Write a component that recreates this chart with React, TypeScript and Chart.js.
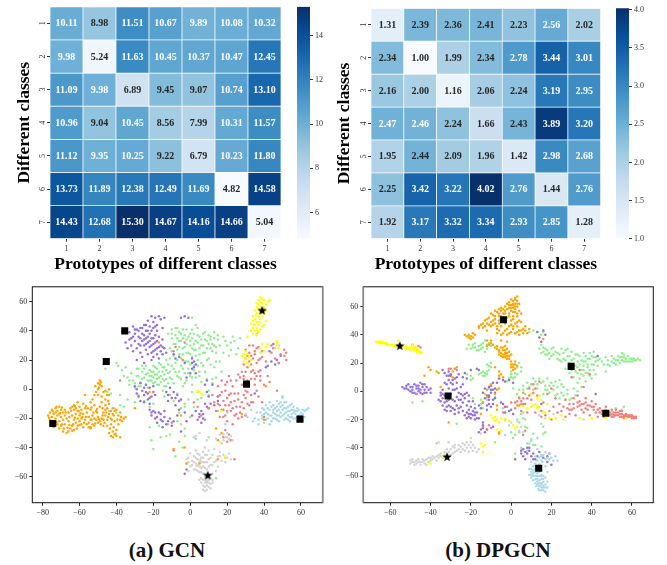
import React, { useEffect, useRef } from "react";
import { Chart, registerables } from "chart.js";

Chart.register(...registerables);

const FONT = "'Liberation Serif', 'Times New Roman', serif";
const classLabels = ["1", "2", "3", "4", "5", "6", "7"];
const blues = ["#f7fbff", "#deebf7", "#c6dbef", "#9ecae1", "#6baed6", "#4292c6", "#2171b5", "#08519c", "#08306b"];

const matrixA = [
  [10.11, 8.98, 11.51, 10.67, 9.89, 10.08, 10.32],
  [9.98, 5.24, 11.63, 10.45, 10.37, 10.47, 12.45],
  [11.09, 9.98, 6.89, 9.45, 9.07, 10.74, 13.1],
  [10.96, 9.04, 10.45, 8.56, 7.99, 10.31, 11.57],
  [11.12, 9.95, 10.25, 9.22, 6.79, 10.23, 11.8],
  [13.73, 11.89, 12.38, 12.49, 11.69, 4.82, 14.58],
  [14.43, 12.68, 15.3, 14.67, 14.16, 14.66, 5.04],
];
const matrixB = [
  [1.31, 2.39, 2.36, 2.41, 2.23, 2.56, 2.02],
  [2.34, 1.0, 1.99, 2.34, 2.78, 3.44, 3.01],
  [2.16, 2.0, 1.16, 2.06, 2.24, 3.19, 2.95],
  [2.47, 2.46, 2.24, 1.66, 2.43, 3.89, 3.2],
  [1.95, 2.44, 2.09, 1.96, 1.42, 2.98, 2.68],
  [2.25, 3.42, 3.22, 4.02, 2.76, 1.44, 2.76],
  [1.92, 3.17, 3.32, 3.34, 2.93, 2.85, 1.28],
];
const cbarTicksA = [6, 8, 10, 12, 14];
const cbarTicksB = [1, 1.5, 2, 2.5, 3, 3.5, 4];
const ticksAX = [-80, -60, -40, -20, 0, 20, 40, 60];
const ticksAY = [-60, -40, -20, 0, 20, 40, 60];
const ticksBX = [-60, -40, -20, 0, 20, 40, 60];
const ticksBY = [-60, -40, -20, 0, 20, 40, 60];

const colOrange = "#FFA500", colYellow = "#FFFF00", colGreen = "#90EE90", colPurple = "#9370DB", colCoral = "#F08080", colBlue = "#ADD8E6", colGrey = "#D3D3D3";

const orangeA = [-77,-18,-76,-21,-76,-16,-75,-19,-75,-14,-74,-17,-74,-22,-74,-26,-73,-13,-73,-16,-73,-20,-72,-15,-72,-18,-72,-24,-71,-12,-71,-17,-71,-22,-71,-27,-70,-14,-70,-19,-70,-25,-69,-16,-69,-21,-69,-29,-68,-18,-68,-24,-67,-30,-67,-20,-66,-29,-66,-22,-65,-13,-65,-27,-64,-12,-64,-18,-64,-25,-63,-11,-63,-14,-63,-21,-63,-28,-62,-13,-62,-17,-62,-23,-61,-9,-61,-15,-61,-20,-61,-25,-60,-12,-60,-18,-60,-22,-59,-14,-59,-20,-59,-24,-58,-10,-58,-17,-58,-26,-57,-4,-57,-13,-57,-21,-56,-16,-56,-24,-55,-19,-55,-23,-54,-9,-54,-14,-54,-21,-54,-26,-53,-18,-53,-24,-52,-4,-52,-11,-52,-20,-52,-25,-51,-15,-51,-21,-50,-4,-50,0,-50,-19,-50,-23,-50,4,-49,6,-49,3,-49,-12,-49,-22,-48,2,-48,-5,-48,-9,-48,-20,-47,-16,-47,-21,-47,-25,-46,-7,-46,-14,-46,-18,-45,-4,-45,-13,-45,-21,-45,-25,-44,-17,-44,-10,-44,0,-44,-30,-43,-15,-43,-20,-43,-32,-43,-24,-42,-13,-42,-17,-42,-29,-42,-33,-41,-15,-41,-31,-41,-22,-40,-14,-40,-28,-40,-32,-39,-18,-39,-24,-38,-16,-38,-21,-38,-33,-37,-22,-36,-20,-35,-19,-54,-27,-66,-16,-68,-14,-75.5,-24,-72.5,-22.5,-69.5,-12.5,-65.5,-24.5,-62.5,-19.5,-59.5,-16.5,-56.5,-11.5,-53.5,-12.5,-50.5,-13.5,-47.5,-13,-44.5,-8,-41.5,-26,-30,-13,-9,-41,-3,-40,5,-51,15,-48,14,-27,17,-30,28,-17,41,2,-17,32,-22,-2,-5,-18,40,-21,-2,-51];
const orangeA2 = [-76.5,-19.5,-74.5,-15,-73.5,-24.5,-72.5,-12,-70.5,-16.5,-69.5,-24,-68.5,-27,-67.5,-16,-66.5,-26.5,-65.5,-19,-64.5,-15,-64,-28.5,-63.5,-24,-62.5,-11.5,-61.5,-27,-60.5,-15,-60,-24.5,-58.5,-19,-57.5,-23,-56.5,-19,-55.5,-13,-55,-26,-53.5,-21,-52.5,-16,-51.5,-23.5,-50.5,-16,-49.5,-20.5,-48.5,-24,-47.5,-18,-46.5,-23,-46,-11,-45.5,-16,-44.5,-19,-43.5,-27,-42.5,-21,-41.5,-18,-40.5,-30.5,-39.5,-21,-37.5,-19,-49.5,1,-51,-2,-47,-2,-44,-4,-48.5,5,-51.5,2,-53,-7,-46,-1];
const yellowA = [38,63,39,62,37,61,40,61,38,60,36,59,39,59,41,58,37,58,38,57,40,56,36,56,42,60,43,61,37,55,39,55,35,54,41,54,36,52,38,52,40,52,34,50,37,50,39,50,35,48,38,48,41,47,34,47,36,46,33,45,35,44,37,44,39,43,34,42,36,42,38,41,33,40,35,40,37,39,34,38,36,37,40,44,31,36,37.5,53,35.5,50.5,37.5,46,34.5,44.5,36.5,40,30,26,29,24,31,24,32,22,30,21,33,20,31,18,29,19,32,16,28,23,38,28,39,31,40,26,41,29,38,25,42,31,47,33,47,30,48,28,47,32,5,-2,6,-3,7,-4,4,-1,19,-46,16,-36,17,-15];
const greenA = [-40,18,-39,16,-37,13,-35,15,-36,9,-34,8,-32,11,-31,6,-33,3,-29,9,-28,14,-27,5,-26,12,-25,8,-24,3,-23,11,-22,6,-22,13,-21,9,-20,4,-20,16,-19,10,-18,7,-18,14,-17,3,-17,18,-16,9,-15,12,-15,-1,-14,6,-14,15,-13,20,-13,2,-12,11,-12,38,-11,-4,-11,8,-11,28,-10,16,-10,35,-10,41,-9,-8,-9,4,-9,23,-8,12,-8,31,-8,37,-7,20,-7,-3,-7,27,-7,42,-6,8,-6,33,-6,-16,-5,16,-5,38,-5,-24,-4,24,-4,2,-4,35,-3,11,-3,29,-3,-27,-3,-32,-2,6,-2,19,-2,34,-2,41,-1,14,-1,-7,-1,25,0,9,0,30,0,38,0,-19,1,3,1,22,1,49,1,35,2,16,2,27,2,-12,3,8,3,33,3,44,4,20,4,-2,4,37,5,12,5,28,6,-6,6,5,6,34,7,16,7,30,8,25,8,39,9,7,9,33,10,21,10,-1,11,28,11,36,12,4,12,31,13,15,13,39,14,25,14,8,15,34,15,-15,16,19,16,30,17,12,18,36,18,25,19,33,20,30,20,-6,21,23,22,27,22,32,23,36,24,33,25,24,26,28,27,35,15,37,-20,-41,-21,-35,-16,-33,-11,-31,-6,-36,-4,-40,-8,-46,-13,-32,3,-34,-47,17,-46,14,-75,-22,29,3,30,5,-12,-24,-7,-22,-3,-12,4,-7,52,-20,43,-24,50,-5,36,38,14,-61,-6,24,40,-14,-22,-26];
const greenA2 = [-30,4,-29,14,-28,9,-27,2,-26,7,-25,14,-24,10,-24,16,-23,6,-23,1,-22,9,-21,12,-21,6,-20,8,-20,12,-19,5,-19,15,-18,10,-18,3,-17,8,-17,12,-16,5,-16,17,-15,7,-15,15,-14,10,-14,2,-13,13,-13,7,-12,17,-12,4,-11,12,-11,21,-10,7,-10,26,-10,38,-9,14,-9,31,-8,42,-8,18,-7,9,-7,35,-6,12,-6,29,-6,39,-5,21,-5,33,-5,7,-4,14,-4,28,-4,41,-3,19,-3,37,-3,4,-2,25,-2,31,-1,11,-1,19,-1,36,0,17,0,33,0,24,1,8,1,28,1,41,2,13,2,31,2,38,3,23,3,27,4,16,4,32,4,42,5,9,5,24,5,36,6,18,6,30,7,25,7,38,8,12,8,34,9,20,9,28,10,31,10,37,11,17,11,34,12,26,13,35,13,30,14,29,-40,-16,-36,-12,-30,-9,-28,-4,-25,-8,-22,-12,-20,-10,-34,-7,-43,-3,-38,-11,-38,-4,-45,-2,-30,1,-28,2,-33,6,-17,-25,-14,-5,-5,-13,-3,-10,1,-2,10,-4,12,7,14,19,-26,16,-38];
const purpleA = [-35,32,-34,28,-33,39,-32,35,-32,30,-31,43,-31,26,-30,38,-30,33,-29,41,-29,28,-29,20,-28,36,-28,31,-27,42,-27,25,-26,38,-26,33,-26,22,-25,30,-25,44,-25,18,-24,35,-24,27,-24,40,-23,32,-23,47,-23,24,-22,38,-22,29,-22,43,-21,35,-21,25,-21,50,-21,20,-20,31,-20,42,-20,46,-19,27,-19,37,-19,49,-18,24,-18,33,-18,44,-17,29,-17,21,-17,50,-16,26,-16,48,-15,24,-15,34,-14,49,-14,28,-9,24,-8,21,-6,22,-5,49,-3,50,-3,18,-1,49,1,18,1,14,2,19,3,17,3,11,-30,2,-29,-3,-27,4,-26,-1,-27,-8,-25,-9,-24,3,-24,-2,-23,-7,-22,1,-22,-10,-21,-5,-20,2,-19,-4,-13,-2,-12,-8,-11,1,-10,-6,-8,-11,-7,-4,-6,-14,-5,-7,-22,-14,-21,-18,-20,-15,-19,-20,-18,-23,-17,-16,-16,-21,-15,-26,-14,-19,-13,-24,-11,-20,-10,-25,-7,-18,-5,-29,-3,-16,-2,-22,1,-18,3,-15,4,-21,5,-19,6,-23,7,-20,8,3,9,-2,10,-5,8,-10,9,-12,11,-10,13,-11,15,-5,15,-8,9,6,12,3,44,19,46,17,47,20,48,18,49,23,43,26,42,16,45,31,-3,-58,-2,-55,35,-3,41,15,31,3];
const purpleA2 = [-33,34,-31,36,-30,41,-28,40,-27,35,-27,30,-26,42,-25,37,-25,34,-24,31,-24,44,-23,36,-23,40,-22,33,-21,30,-21,40,-20,35,-20,26,-20,22,-19,32,-19,43,-18,28,-18,40,-17,36,-16,30,-15,42,-15,29,-13,25,-29,0,-28,-5,-25,1,-25,-4,-23,-3,-22,-6,-20,-2,-12,-4,-9,-2,-6,-8,-8,-6,-21,-16,-19,-16,-18,-19,-16,-17,-15,-22,-14,-15,-12,-22,-9,-22,-2,8,0,11,2,15,1,21,10,-13,7,-17,6,-15,5,-17];
const coralA = [-38,6,-20,-2,-10,-23,-9,26,-8,29,-4,20,-3,32,2,-9,4,-12,6,-18,8,-21,10,-13,12,-4,13,-9,14,-15,15,-5,15,2,16,-11,16,-19,17,-2,17,6,18,-8,18,-14,19,-1,19,-18,20,-6,20,5,20,-22,21,-11,21,9,22,-3,22,-15,23,2,23,-24,24,-8,24,-18,25,6,25,-12,26,-3,26,-20,26,10,27,-16,28,3,28,-9,29,-13,29,9,30,-6,30,-18,30,27,31,15,31,-2,32,-11,32,30,32,25,33,7,33,-4,34,13,34,-9,34,21,35,3,35,26,36,-1,36,9,36,18,37,-5,37,29,38,6,38,13,39,-9,39,22,40,3,40,-19,41,19,42,9,43,5,44,25,45,28,46,21,47,-1,48,18,49,24,51,27,51,23,52,25,52,20,30,-1,33,17,28,12,18,-33,19,-28,20,-36,21,-31,22,-35,24,-48,15,-35,-9,-42];
const coralA2 = [15,-10,16,-4,17,-14,18,-19,19,-11,20,-15,21,-4,22,-9,23,-13,24,-3,25,-17,26,-7,27,-12,28,-19,29,-4,31,-10,33,-9,35,7,30,12,29,17,30,21,31,23,32,19,33,23,34,30,35,24,36,28,37,20,33,12,38,9,37,12,38,21,39,26,35,11,31,6,29,7,27,8,22,6,19,3,44,30];
const blueA = [30,-17,31,-19,33,-14,34,-22,36,-16,37,-21,39,-13,39,-18,40,-23,41,-11,41,-16,42,-20,43,-9,43,-14,44,-18,44,-22,45,-11,45,-16,46,-13,46,-20,47,-8,47,-15,47,-18,48,-10,48,-22,49,-12,49,-16,49,-19,50,-6,50,-14,50,-11,51,-17,51,-21,52,-13,52,-9,53,-15,53,-18,54,-11,54,-22,55,-14,55,-19,56,-16,56,-12,57,-20,57,-17,58,-15,58,-13,59,-18,60,-16,60,-22,61,-14,62,-19,63,-14,64,-13,38,-16,40,-14,42,-17,37,-24,35,-20,-49,4,-44,-15,-41,-13,20,-16,19,-24,2,-33,10,-33];
const blueA2 = [39,-20,40,-17,41,-21,42,-13,43,-18,44,-12,45,-20,45,-14,46,-17,47,-12,47,-21,48,-14,48,-18,49,-9,50,-18,51,-13,51,-9,52,-16,53,-12,53,-21,54,-15,54,-19,55,-17,56,-20,56,-14,57,-15,58,-19,59,-14,60,-18,61,-17,62,-15,58,-22,55,-10];
const greyA = [-2,-51,-1,-47,0,-53,0,-44,1,-49,2,-55,2,-46,3,-51,3,-42,4,-56,4,-48,5,-53,5,-45,6,-50,6,-57,7,-43,7,-47,7,-53,8,-40,8,-60,8,-50,9,-45,9,-55,9,-64,10,-42,10,-48,10,-59,11,-65,11,-52,5,-62,6,-64,7,-66,7,-62,8,-67,8,-64,9,-69,9,-66,10,-62,10,-67,11,-61,12,-64,12,-58,12,-45,13,-50,13,-41,14,-56,15,-46,15,-53,16,-43,17,-49,18,-45,19,-50,20,-47,21,-44,22,-48,18,-35,17,-37,19,-33,20,-30,21,-34,22,-32,23,-35,14,-34,16,-31,3,-32,5,-30,9,-35,47,32,46,28,48,30,-1,-56,7.5,-58,3.5,-52.5,5.5,-48.5];
const greyA2 = [1,-52,2,-50,3,-47,3,-55,4,-52,5,-50,5,-57,6,-47,6,-54,7,-50,7,-58,8,-45,8,-54,9,-50,9,-61,10,-53,10,-64,11,-47,11,-68,8,-62,6,-61,9,-63,7,-69,8,-70,12,-62,12,-52,14,-49,16,-46,19,-47,20,-33,18,-31,-1,-50,-2,-48,4,-44];
const squaresA = [-74.5,-23.5,-45.5,19,-35.5,40,30.5,3.5,59.5,-20.5];
const starsA = [39,54,9.5,-59];

const orangeB = [3,67,2,66,1,64,3,64,0,65,-1,63,2,62,4,62,-2,62,0,61,3,60,-3,60,-1,59,1,59,-5,59,-6,58,4,57,-3,57,0,57,2,56,-8,57,-4,55,-1,55,-6,55,5,55,-10,55,1,53,3,53,-8,53,-2,52,-5,53,-11,52,-13,50,-9,50,-6,50,0,50,4,50,-12,48,-8,48,-3,48,2,48,-15,47,-10,46,-5,46,-1,46,-14,45,-7,44,-3,43,1,44,3,46,-16,46,-12,43,5,43,7,46,9,44,8,41,0,42,-2,40,-5,40,-7,41,4,40,2,41,-23,40,-21,40,-21,38,-19,41,-19,38,-18,40,-12,36,-10,36,-11,33,-9,33,-7,32,-12,32,-6,28,-5,31,-4,29,-3,32,-2,30,-6,26,-4,26,-2,25,-1,28,-3,24,-1,23,-2,27,0,26,-5,36,-2,35,0,21,1,19,0,17,1,15,2,21,3,18,2,16,-6,14,-5,12,-6,11,-4,10,16,37,6,-1,-10,5,-3,-20,-7,1,-8,-2,-6,2,-7,-10,-8,17,-41,17,-29,14,-27,17,-29,10,-6,-30,-6,-29,-7,-13,-15,-16,-12,-4,-14,-8,-12,1,-35,3,-37,14,-36,13,-40,15,-43,11,3,-10,5,-9,-31,-22];
const orangeB2 = [2,65,1,62,3,62,-1,61,1,61,2,60,-2,58,0,59,2,58,-4,58,-7,56,-5,57,-3,55,1,56,3,55,-9,54,-6,53,-1,53,-12,51,-8,51,-10,49,-6,48,-11,47,-13,46,1,51,3,49,5,49,-14,48,-16,45,-9,47,-7,46,-2,44,0,47,1,46,4,43,6,44,7,43,6,41,-1,41,-4,41,-6,43,3,42,-5,27,-4,24,-3,27,-6,29,-5,25,-1,25,-2,23,-7,30,-8,31,-10,34,-3,29,-4,31,-3,26,-22,39,-20,39,-20,37,1,17,2,19,0,19];
const yellowB = [-67,35,-66,35,-65,35,-65,34,-64,35,-64,34,-63,34,-62,34,-62,33,-61,33,-60,33,-59,33,-58,33,-57,32,-56,36,-54,32,-53,31,-52,30,-52,32,-51,30,-50,31,-50,29,-49,33,-49,30,-48,31,-48,29,-47,30,-47,28,-46,29,-46,28,-45,28,-45,27,-10,-17,-9,-19,-8,-18,-8,-21,-7,-20,-6,-22,-5,-19,-3,-20,-1,-21,1,-24,2,-26,3,-25,-5,-28,-7,-27,6,-11,8,-12,10,-11,11,-10,12,-9,13,-10,13,-12,14,-11,15,-6,14,-3,13,-5,16,-15,17,-15,19,-19,22,-19,25,-17,26,-20,34,-19,40,-19,47,-19,57,-19,-14,-43,-15,-37,-14,-39,-13,-38,10,-2,18,-9,-40,-51,-34,-46];
const yellowB2 = [-66.5,34.5,-65.5,34.5,-64.5,34,-63.5,34.5,-61.5,33.5,-60.5,32.5,-59,32.5,-58,32,-51.5,31,-50.5,30,-49.5,31,-48.5,30,-47.5,29,-46.5,29,-45.5,28,-47,31,-44.5,27.5];
const greenB = [-21,33,-20,30,-19,31,-18,34,-17,29,-16,32,-15,33,-14,31,-13,28,-13,36,-12,33,-11,34,-10,32,-22,12,-20,11,-19,9,-16,12,-15,13,-14,14,-13,13,-12,14,-12,12,-11,18,-10,17,-10,20,-20,8,-2,7,-1,9,0,12,0,14,1,15,1,9,2,10,3,17,3,12,4,20,5,17,5,14,-19,-5,-15,-6,-15,-9,-18,-9,-12,-6,-14,-12,-13,-2,-11,2,-10,4,-8,-4,-4,-12,3,-20,4,-22,5,-16,6,-19,7,-25,8,-26,6,-15,0,-29,1,-33,2,-31,10,-35,11,-38,13,-33,16,-30,4,-29,8,-37,15,-39,-8,-36,-37,-37,-49,-8,-44,-7,-27,-23,15,40,13,42,11,43,9,42,16,42,15,33,16,31,14,30,15,27,17,30,18,26,19,23,20,25,20,30,22,28,23,23,24,26,25,21,25,30,26,27,27,22,27,16,28,25,28,30,29,20,29,13,30,28,30,15,31,10,31,23,32,18,32,26,33,13,33,6,33,21,34,25,34,9,35,15,35,22,35,3,36,27,36,18,36,11,37,21,37,7,37,25,38,17,38,13,39,27,39,23,40,19,40,9,41,28,41,15,41,24,42,21,42,12,43,18,44,23,45,21,46,19,47,24,48,22,49,18,50,21,50,25,51,23,52,19,53,25,53,22,54,20,55,27,55,24,56,21,56,26,57,23,58,25,58,21,59,23,60,21,61,23,62,22,63,23,64,22,48,19,47,14,47,-13,50,-14,52,-12,55,-13,56,-11,6,4,8,2,10,5,12,7,13,2,14,9,15,6,16,-2,17,4,18,9,18,1,19,-1,20,6,21,1,22,-3,23,3,24,-5,24,8,25,-1,26,3,27,-6,28,-2,30,-5,31,2,32,-3,33,0,4,-4,4,1,7,-2,5,-40,8,-42,2,-44,12,-38,15,-46,11,-30,16,-25,17,-29];
const greenB2 = [-18,31,-16,29,-15,30,-14,34,-12,30,-19,33,-14,11,-13,11,-11,15,-12,19,16,28,17,26,18,29,19,27,21,26,21,31,23,27,24,22,26,23,27,29,29,25,30,22,31,18,32,14,33,17,33,26,34,19,35,12,36,21,36,15,37,13,38,23,38,19,39,15,39,11,40,25,41,19,42,24,43,22,51,20,52,22,54,24,55,22,56,24,57,21,59,21,60,23,61,22,9,3,11,1,11,9,13,5,16,7,17,1,19,4,21,4,22,7,23,-2,25,5,26,-3,28,1,29,-6,8,6,6,1,3,-2,1,2,-22,30,0,10,2,13];
const purpleB = [-54,3,-53,2,-52,4,-51,1,-51,5,-50,0,-49,3,-49,-1,-48,5,-47,2,-47,-2,-46,4,-46,0,-45,6,-45,-1,-44,3,-44,-2,-43,1,-43,5,-42,-1,-41,1,-40,-1,-40,2,-36,-6,-35,-3,-35,-7,-34,1,-34,-5,-34,-10,-33,-3,-33,-13,-32,-7,-32,5,-32,-14,-31,2,-31,8,-31,-10,-30,-2,-30,-14,-30,11,-29,-6,-29,5,-29,-12,-28,1,-28,9,-28,-16,-27,-4,-27,6,-27,-10,-26,12,-26,-1,-26,-15,-25,3,-25,-6,-25,-11,-24,-3,-24,5,-24,-14,-23,-5,-23,-17,-22,-1,-22,-10,-22,-19,-21,-7,-21,-13,-21,-18,-20,-11,-20,-16,-19,-14,-19,-7,-18,-12,-18,-17,-18,-20,-17,-15,-16,-19,-16,-10,-15,-12,-14,-22,-14,-8,-14,-1,-13,-5,-13,2,-12,-10,-12,-13,-11,-3,-11,3,-11,-9,-10,-1,-10,4,-10,-11,-9,1,-9,-6,-9,6,-8,2,-8,-5,-34,15,-33,13,-32,11,-31,14,-30,12,-24,10,-22,9,-23,13,-20,15,-17,16,-16,15,-5,-8,-4,-9,-3,-11,-3,-15,-1,-14,0,-13,1,-16,9,-40,7,-43,6,-41,5,-42,8,-44,10,-46,11,-44,12,-48,6,-46,7,-48,14,-43,16,-47,20,-52,18,-46,19,-44,2,-48,-1,8,1,6,-3,7,-6,9,15,-9,13,42,14,38,15,35,16,43,17,40,14,-52,18,-50,-14,-24,-12,-27,-16,-29,-15,-27,-9,-25,-7,6,-4,8];
const purpleB2 = [-52,2,-50,3,-49,1,-48,-1,-47,4,-46,2,-45,1,-44,5,-43,-1,-42,3,-35,-1,-34,-2,-33,-8,-33,6,-32,-2,-32,-11,-31,-6,-31,11,-30,-11,-30,6,-29,1,-29,8,-28,-7,-28,-13,-27,2,-27,10,-26,-6,-26,-12,-25,-2,-24,-8,-23,-2,-22,-15,-21,-3,-21,-16,-20,-19,-19,-17,-18,-15,-17,-19,-12,-3,-11,-6,-10,1,-9,-9,-8,-1,-14,-26,-13,-29,-11,-4,9,-42,11,-48,13,-46,5,-44,8,-40,43,25,42,-2,3];
const coralB = [-49,33,-48,31,-46,32,-45,31,-31,16,-30,16,-28,16,-27,15,-12,-27,-10,-26,-11,-24,-14,-25,-4,-15,-2,-11,0,-8,2,-12,3,-7,4,-10,5,-14,6,-5,7,-9,8,-15,9,-3,9,2,10,-6,11,-1,11,5,12,-15,12,2,13,-3,14,7,15,-18,15,-14,16,-8,17,-17,18,-2,19,-14,20,-20,20,2,21,-11,22,-5,23,-15,24,-9,25,-14,26,-11,27,-18,27,-6,28,-12,29,-9,29,-16,30,-13,31,-5,31,-9,32,-17,33,-11,33,-3,34,-7,35,-13,36,-9,36,-15,37,-5,38,-10,38,-13,39,-17,40,-11,40,-7,41,-13,42,-15,42,-9,43,-18,44,-12,45,-14,46,-18,47,-11,48,-17,49,-15,50,-16,50,-13,51,-18,52,-17,52,-13,53,-15,54,-16,55,-18,55,-14,56,-19,57,-16,57,-18,58,-18,59,-17,60,-18,60,-19,61,-18,62,-19,62,-18,58,-17,56,-17,54,-18,51,-15,48,-14,30,10,34,15,39,12,36,3,7,-28,6,-31,-47,-2];
const coralB2 = [49,-17,50,-18,51,-17,52,-15,53,-17,54,-14,55,-16,56,-18,57,-17,59,-18,60,-17,61,-19,34,-10,35,-9,37,-8,39,-10,41,-11,43,-13,45,-16,44,-15,37,-12,33,-8,31,-12,29,-13,10,-2,8,-5,6,-9,5,-7,4,-5,2,-8];
const blueB = [15,-23,21,-49,23,-49,19,-44,17,-43,15,-45,13,-41,12,-46,18,-47,10,-50,11,-53,12,-51,9,-55,10,-57,9,-59,10,-61,11,-56,11,-58,11,-63,12,-55,12,-60,12,-65,13,-58,13,-62,13,-66,14,-57,14,-60,14,-63,14,-67,14,-70,15,-59,15,-62,15,-65,15,-68,16,-64,16,-67,16,-70,17,-61,17,-66,17,-71,18,-68,18,-57,15.5,-50,14,-47,16,-45,13,-49,17,-53,9,-37,10,-34,-1,-24,7,-20,4,-28,-3,-31];
const blueB2 = [10,-55,11,-60,12,-57,12,-62,12.5,-67,13,-60,13,-64,13.5,-69,14,-65,15,-60,15,-66,15,-70,16,-62,16,-68,16,-60,17,-68,18,-64,12,-53,14,-52,15,-49,17,-48,19,-48,11,-60,10,-59,13,-53,20,-47,22,-46];
const greyB = [-50,-49,-50,-51,-49,-50,-49,-48,-48,-50,-48,-52,-47,-49,-47,-51,-46,-48,-46,-50,-45,-50,-45,-52,-44,-48,-44,-50,-43,-49,-43,-51,-42,-48,-42,-52,-41,-50,-41,-47,-40,-49,-40,-47,-39,-48,-39,-46,-38,-47,-37,-49,-37,-46,-36,-47,-36,-45,-35,-44,-35,-46,-34,-47,-33,-43,-33,-45,-32,-41,-32,-44,-31,-43,-30,-45,-30,-41,-29,-44,-29,-39,-28,-43,-28,-40,-27,-42,-26,-41,-26,-38,-25,-43,-25,-39,-24,-41,-24,-37,-23,-42,-23,-38,-22,-40,-22,-36,-21,-43,-21,-38,-20,-40,-20,-36,-20,-33,-19,-42,-19,-38,-18,-40,-17,-43,-16,-41,-31,-36,-28,-38,-36,-36,5,-25,0,-22,3,-21,-3,-20,14,-17,17,-19,21,-16,36,-20,6,-29,-15,-30];
const squaresB = [-3.8,50.6,29.8,17.6,-31.3,-3.3,47,-15.5,13.7,-54.4];
const starsB = [-55.3,32.2,-31.8,-46.4];

const pairs = (flat: number[]) => {
  const out: { x: number; y: number }[] = [];
  for (let i = 0; i + 1 < flat.length; i += 2) out.push({ x: flat[i], y: flat[i + 1] });
  return out;
};

const lerpBlues = (t: number) => {
  const p = Math.max(0, Math.min(1, t)) * (blues.length - 1);
  const i = Math.min(blues.length - 2, Math.floor(p));
  const f = p - i;
  const h = (s: string, k: number) => parseInt(s.slice(k, k + 2), 16);
  const mix = (k: number) => Math.round(h(blues[i], k) * (1 - f) + h(blues[i + 1], k) * f);
  return `rgb(${mix(1)},${mix(3)},${mix(5)})`;
};

const starImage = () => {
  const c = document.createElement("canvas");
  c.width = 10;
  c.height = 10;
  const g = c.getContext("2d")!;
  g.fillStyle = "#000";
  g.beginPath();
  for (let i = 0; i < 10; i++) {
    const r = i % 2 === 0 ? 4.8 : 2.1;
    const a = -Math.PI / 2 + (i * Math.PI) / 5;
    const px = 5 + r * Math.cos(a);
    const py = 5.3 + r * Math.sin(a);
    if (i === 0) g.moveTo(px, py);
    else g.lineTo(px, py);
  }
  g.closePath();
  g.fill();
  return c;
};

const tickFont = { family: FONT, size: 8 };
const tickColor = "#333";

function heatConfig(matrix: number[][], yWidth: number, top: number, right: number, xHeight: number, yTitlePad: number): any {
  const flat = matrix.flat();
  const vmin = Math.min(...flat);
  const vmax = Math.max(...flat);
  const norm = (v: number) => (v - vmin) / (vmax - vmin);
  const labelPlugin = {
    id: "cellLabels",
    afterDatasetsDraw(chart: any) {
      const g = chart.ctx;
      g.save();
      g.font = `bold 10px ${FONT}`;
      g.textAlign = "center";
      g.textBaseline = "middle";
      matrix.forEach((row, r) => {
        const meta = chart.getDatasetMeta(r);
        row.forEach((v, c) => {
          const p = meta.data[c].getCenterPoint();
          g.fillStyle = norm(v) >= 0.48 ? "#fff" : "#262626";
          g.fillText(v.toFixed(2), p.x, p.y + 0.5);
        });
      });
      g.restore();
    },
  };
  return {
    type: "bar",
    data: {
      labels: classLabels,
      datasets: matrix.map((row) => ({
        data: row.map(() => 1),
        backgroundColor: row.map((v) => lerpBlues(norm(v))),
        borderColor: "#fff",
        borderWidth: 0.7,
        borderSkipped: false,
        barPercentage: 1,
        categoryPercentage: 1,
      })),
    },
    plugins: [labelPlugin],
    options: {
      responsive: false,
      animation: false,
      layout: { padding: { top, right, left: 0, bottom: 0 } },
      plugins: { legend: { display: false }, tooltip: { enabled: false } },
      scales: {
        x: {
          stacked: true,
          grid: { display: true, drawOnChartArea: false, drawTicks: true, tickLength: 3, color: "#333", offset: false },
          border: { display: false },
          ticks: { font: tickFont, color: tickColor, padding: 2, maxRotation: 0 },
          title: { display: true, text: "Prototypes of different classes", font: { family: FONT, size: 17.5, weight: "bold" }, color: "#000", padding: { top: 1, bottom: 5 } },
          afterFit: (s: any) => { s.height = xHeight; },
        },
        y: {
          type: "linear",
          stacked: true,
          reverse: true,
          min: 0,
          max: 7,
          afterBuildTicks: (s: any) => { s.ticks = classLabels.map((_, i) => ({ value: i + 0.5 })); },
          grid: { display: true, drawOnChartArea: false, drawTicks: true, tickLength: 3, color: "#333" },
          border: { display: false },
          ticks: { font: tickFont, color: tickColor, padding: 2, minRotation: 90, maxRotation: 90, crossAlign: "center", callback: (v: number) => classLabels[Math.floor(v)] },
          title: { display: true, text: "Different classes", font: { family: FONT, size: 17.5, weight: "bold" }, color: "#000", padding: { top: yTitlePad, bottom: 0 } },
          afterFit: (s: any) => { s.width = yWidth; },
        },
      },
    },
  };
}

function cbarConfig(matrix: number[][], ticks: number[], top: number, bottom: number, left: number, barW: number): any {
  const flat = matrix.flat();
  const vmin = Math.min(...flat);
  const vmax = Math.max(...flat);
  return {
    type: "bar",
    data: {
      labels: [""],
      datasets: [{
        data: [[vmin, vmax]],
        barPercentage: 1,
        categoryPercentage: 1,
        backgroundColor: (ctx: any) => {
          const a = ctx.chart.chartArea;
          if (!a) return blues[4];
          const g = ctx.chart.ctx.createLinearGradient(0, a.bottom, 0, a.top);
          blues.forEach((c, i) => g.addColorStop(i / (blues.length - 1), c));
          return g;
        },
      }],
    },
    options: {
      responsive: false,
      animation: false,
      layout: { padding: { top, bottom, left, right: 0 } },
      plugins: { legend: { display: false }, tooltip: { enabled: false } },
      scales: {
        x: { display: false },
        y: {
          position: "right",
          min: vmin,
          max: vmax,
          afterBuildTicks: (s: any) => { s.ticks = ticks.map((value) => ({ value })); },
          grid: { display: true, drawOnChartArea: false, tickLength: 3, color: "#333" },
          border: { display: false },
          ticks: { font: tickFont, color: tickColor, padding: 2, callback: (v: number) => (ticks.some((t) => t % 1 !== 0) ? v.toFixed(1) : String(v)) },
          afterFit: (s: any) => { s.width = barW; },
        },
      },
    },
  };
}

function scatterConfig(series: [number[], string][], squares: number[], stars: number[], xr: number[], yr: number[], xt: number[], yt: number[], yWidth: number, top: number, right: number, xHeight: number, greySide: "left" | "right"): any {
  const frame = {
    id: "frame",
    afterDraw(chart: any) {
      const a = chart.chartArea;
      const g = chart.ctx;
      g.save();
      g.strokeStyle = "#111";
      g.lineWidth = 1;
      g.strokeRect(a.left, a.top, a.right - a.left, a.bottom - a.top);
      g.strokeStyle = "#888";
      g.lineWidth = 1.6;
      const sx = greySide === "left" ? a.left : a.right;
      g.beginPath();
      g.moveTo(sx, a.top);
      g.lineTo(sx, a.bottom);
      g.stroke();
      g.restore();
    },
  };
  const star = starImage();
  const fmt = (v: number) => (v < 0 ? "\u2212" + -v : String(v));
  return {
    type: "scatter",
    data: {
      datasets: [
        { data: pairs(squares), backgroundColor: "#000", borderWidth: 0, pointRadius: 5, pointStyle: "rect" },
        { data: pairs(stars), pointStyle: star, pointRadius: 5 },
        ...series.map(([flat, color]) => ({ data: pairs(flat), backgroundColor: color, borderWidth: 0, pointRadius: 1.25, pointStyle: "circle" })),
      ],
    },
    plugins: [frame],
    options: {
      responsive: false,
      animation: false,
      layout: { padding: { top, right, left: 0, bottom: 0 } },
      plugins: { legend: { display: false }, tooltip: { enabled: false } },
      scales: {
        x: {
          min: xr[0], max: xr[1],
          afterBuildTicks: (s: any) => { s.ticks = xt.map((value) => ({ value })); },
          grid: { display: true, drawOnChartArea: false, tickLength: 3, color: "#222" },
          border: { display: false },
          ticks: { font: tickFont, color: tickColor, padding: 2, maxRotation: 0, callback: fmt },
          afterFit: (s: any) => { s.height = xHeight; },
        },
        y: {
          min: yr[0], max: yr[1],
          afterBuildTicks: (s: any) => { s.ticks = yt.map((value) => ({ value })); },
          grid: { display: true, drawOnChartArea: false, tickLength: 3, color: "#222" },
          border: { display: false },
          ticks: { font: tickFont, color: tickColor, padding: 2, callback: fmt },
          afterFit: (s: any) => { s.width = yWidth; },
        },
      },
    },
  };
}

const panels: { left: number; top: number; width: number; height: number; make: () => any }[] = [
  { left: 0, top: 0, width: 290, height: 280, make: () => heatConfig(matrixA, 50, 6, 9, 41.3, 14) },
  { left: 290, top: 0, width: 40, height: 280, make: () => cbarConfig(matrixA, cbarTicksA, 6, 41.3, 7, 20) },
  { left: 330, top: 0, width: 280, height: 280, make: () => heatConfig(matrixB, 41, 8.3, 9.3, 41.3, 4) },
  { left: 610, top: 0, width: 57, height: 280, make: () => cbarConfig(matrixB, cbarTicksB, 8.3, 41.3, 6, 38) },
  {
    left: 0, top: 280, width: 334, height: 245,
    make: () => scatterConfig(
      [[yellowA, colYellow], [orangeA.concat(orangeA2), colOrange], [greyA.concat(greyA2), colGrey], [blueA.concat(blueA2), colBlue], [coralA.concat(coralA2), colCoral], [purpleA.concat(purpleA2), colPurple], [greenA.concat(greenA2), colGreen]],
      squaresA, starsA, [-85.6, 71.8], [-77.8, 70.2], ticksAX, ticksAY, 32.3, 6.3, 11.3, 22.3, "right"),
  },
  {
    left: 334, top: 280, width: 333, height: 245,
    make: () => scatterConfig(
      [[yellowB.concat(yellowB2), colYellow], [orangeB.concat(orangeB2), colOrange], [greyB, colGrey], [blueB.concat(blueB2), colBlue], [coralB.concat(coralB2), colCoral], [purpleB.concat(purpleB2), colPurple], [greenB.concat(greenB2), colGreen]],
      squaresB, starsB, [-73.4, 70.6], [-78.8, 73.9], ticksBX, ticksBY, 29.3, 6.3, 13.7, 22.3, "left"),
  },
];

const captions = [
  { text: "(a) GCN", center: 167 },
  { text: "(b) DPGCN", center: 498 },
];

export default function App() {
  const refs = useRef<(HTMLCanvasElement | null)[]>([]);
  useEffect(() => {
    const charts = panels.map((p, i) => new Chart(refs.current[i]!, p.make()));
    return () => charts.forEach((c) => c.destroy());
  }, []);
  return (
    <div style={{ position: "absolute", left: 0, top: 0, width: 667, height: 565, background: "#fff", overflow: "hidden" }}>
      {panels.map((p, i) => (
        <canvas
          key={i}
          ref={(el) => { refs.current[i] = el; }}
          width={p.width}
          height={p.height}
          style={{ position: "absolute", left: p.left, top: p.top, width: p.width, height: p.height }}
        />
      ))}
      {captions.map((c) => (
        <div
          key={c.text}
          style={{ position: "absolute", left: c.center - 100, width: 200, top: 537, height: 26, lineHeight: "26px", textAlign: "center", fontFamily: FONT, fontWeight: "bold", fontSize: 21, color: "#111" }}
        >
          {c.text}
        </div>
      ))}
    </div>
  );
}
